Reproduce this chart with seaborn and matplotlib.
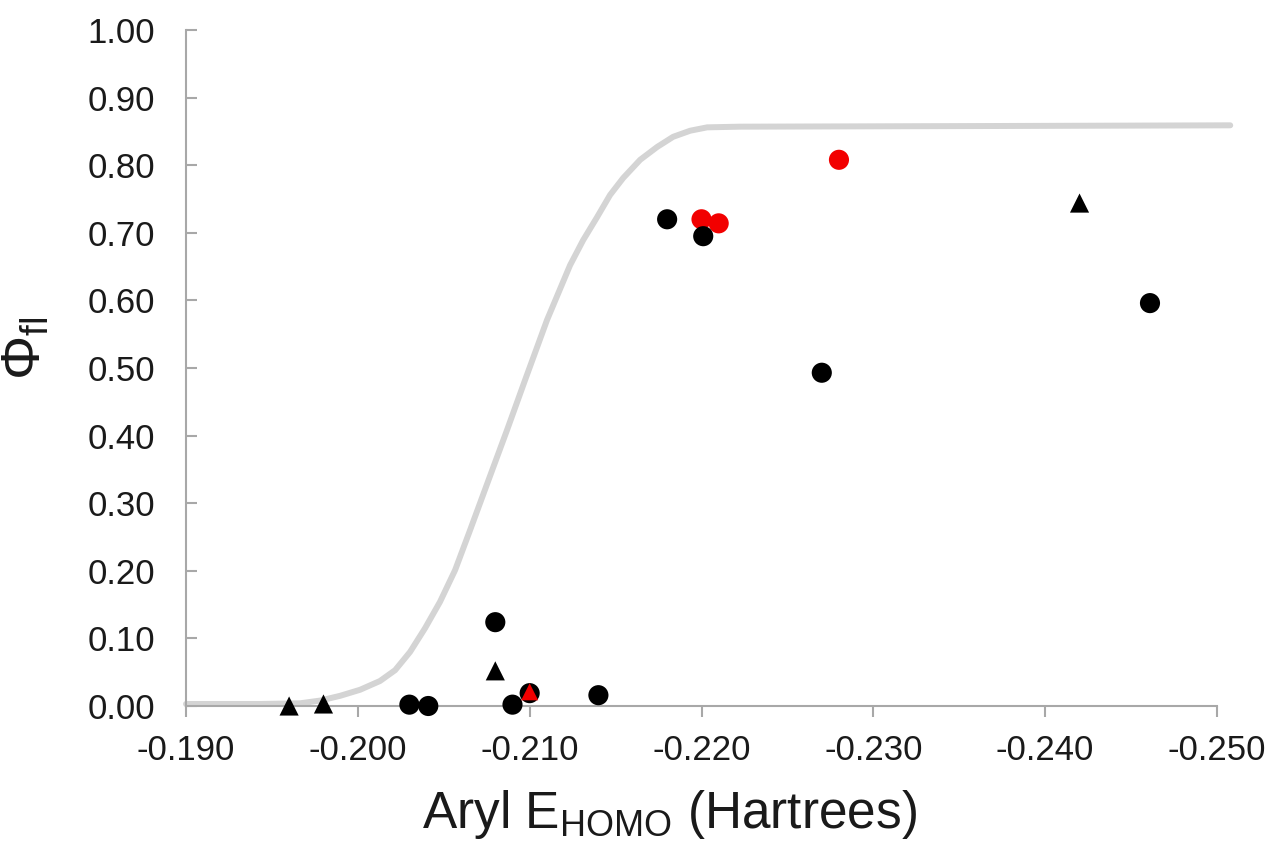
import numpy as np
import pandas as pd
import matplotlib
matplotlib.use("Agg")
import matplotlib.pyplot as plt
import seaborn as sns

# ---- data ----
black_circle_x = [-0.2030, -0.2041, -0.2090, -0.2080, -0.2100, -0.2140, -0.2180, -0.2201, -0.2270, -0.2461]
black_circle_y = [0.002, 0.000, 0.002, 0.124, 0.019, 0.016, 0.720, 0.695, 0.493, 0.596]

red_circle_x = [-0.2200, -0.2210, -0.2280]
red_circle_y = [0.720, 0.714, 0.808]

black_tri_x = [-0.1960, -0.1980, -0.2080, -0.2420]
black_tri_y = [0.000, 0.003, 0.052, 0.744]

red_tri_x = [-0.2100]
red_tri_y = [0.021]

curve_x = [-0.19000, -0.19431, -0.19664, -0.19780, -0.19896, -0.20013, -0.20129,
           -0.20217, -0.20304, -0.20391, -0.20478, -0.20566, -0.20653, -0.20769,
           -0.20868, -0.20973, -0.21101, -0.21235, -0.21311, -0.21392, -0.21468,
           -0.21544, -0.21643, -0.21742, -0.21835, -0.21934, -0.22033, -0.22225,
           -0.23738, -0.25077]
curve_y = [0.003, 0.003, 0.004, 0.008, 0.015, 0.024, 0.037,
           0.053, 0.080, 0.115, 0.154, 0.201, 0.260, 0.340,
           0.408, 0.482, 0.571, 0.652, 0.689, 0.723, 0.756,
           0.781, 0.808, 0.827, 0.842, 0.851, 0.856, 0.857,
           0.858, 0.859]

x_ticks = [-0.190, -0.200, -0.210, -0.220, -0.230, -0.240, -0.250]
x_tick_labels = ["-0.190", "-0.200", "-0.210", "-0.220", "-0.230", "-0.240", "-0.250"]
y_ticks = [0.0, 0.1, 0.2, 0.3, 0.4, 0.5, 0.6, 0.7, 0.8, 0.9, 1.0]
y_tick_labels = ["0.00", "0.10", "0.20", "0.30", "0.40", "0.50", "0.60", "0.70", "0.80", "0.90", "1.00"]

# ---- style ----
sns.set_theme(style="white")
plt.rcParams["font.family"] = ["Liberation Sans", "DejaVu Sans"]
plt.rcParams["mathtext.fontset"] = "custom"
plt.rcParams["mathtext.rm"] = "Liberation Sans"
plt.rcParams["mathtext.it"] = "Liberation Sans"

fig = plt.figure(figsize=(12.72, 8.44), dpi=100)
ax = fig.add_axes([186 / 1272, 1 - 706 / 844, (1217 - 186) / 1272, (706 - 30) / 844])

curve = pd.DataFrame({"x": curve_x, "y": curve_y})
sns.lineplot(data=curve, x="x", y="y", sort=False, color="#d4d4d4", linewidth=4.3,
             ax=ax, clip_on=False, zorder=1, solid_joinstyle="round")

def pts(xs, ys):
    return pd.DataFrame({"x": xs, "y": ys})

sns.scatterplot(data=pts(red_circle_x, red_circle_y), x="x", y="y", marker="o", s=210,
                color="#f20000", edgecolor="none", ax=ax, zorder=3, clip_on=False)
sns.scatterplot(data=pts(black_circle_x, black_circle_y), x="x", y="y", marker="o", s=210,
                color="black", edgecolor="none", ax=ax, zorder=4, clip_on=False)
sns.scatterplot(data=pts(black_tri_x, black_tri_y), x="x", y="y", marker="^", s=190,
                color="black", edgecolor="none", ax=ax, zorder=4, clip_on=False)
sns.scatterplot(data=pts(red_tri_x, red_tri_y), x="x", y="y", marker="^", s=150,
                color="#f20000", edgecolor="none", ax=ax, zorder=5, clip_on=False)

ax.set_xlim(-0.190, -0.250)
ax.set_ylim(0.0, 1.0)
ax.set_xticks(x_ticks)
ax.set_xticklabels(x_tick_labels)
ax.set_yticks(y_ticks)
ax.set_yticklabels(y_tick_labels)

for s in ["top", "right"]:
    ax.spines[s].set_visible(False)
for s in ["left", "bottom"]:
    ax.spines[s].set_color("#a8a8a8")
    ax.spines[s].set_linewidth(1.5)

ax.tick_params(axis="x", direction="out", length=8, width=1.5, color="#a8a8a8",
               labelsize=25, pad=12, labelcolor="#1a1a1a", bottom=True)
ax.tick_params(axis="y", direction="in", length=8, width=1.5, color="#a8a8a8",
               labelsize=25, pad=22, labelcolor="#1a1a1a", left=True)

ax.set_xlabel("Aryl E$_{\\mathrm{HOMO}}$ (Hartrees)", fontsize=37, color="#1a1a1a")
ax.xaxis.set_label_coords((670 - 186) / 1031, (706 - 788) / 676)
ax.set_ylabel("Φ$_{\\mathrm{fl}}$", fontsize=40, color="#1a1a1a")
ax.yaxis.set_label_coords((52 - 186) / 1031, (706 - 348) / 676)
ax.grid(False)

fig.savefig("out.png", dpi=100, facecolor="white")
